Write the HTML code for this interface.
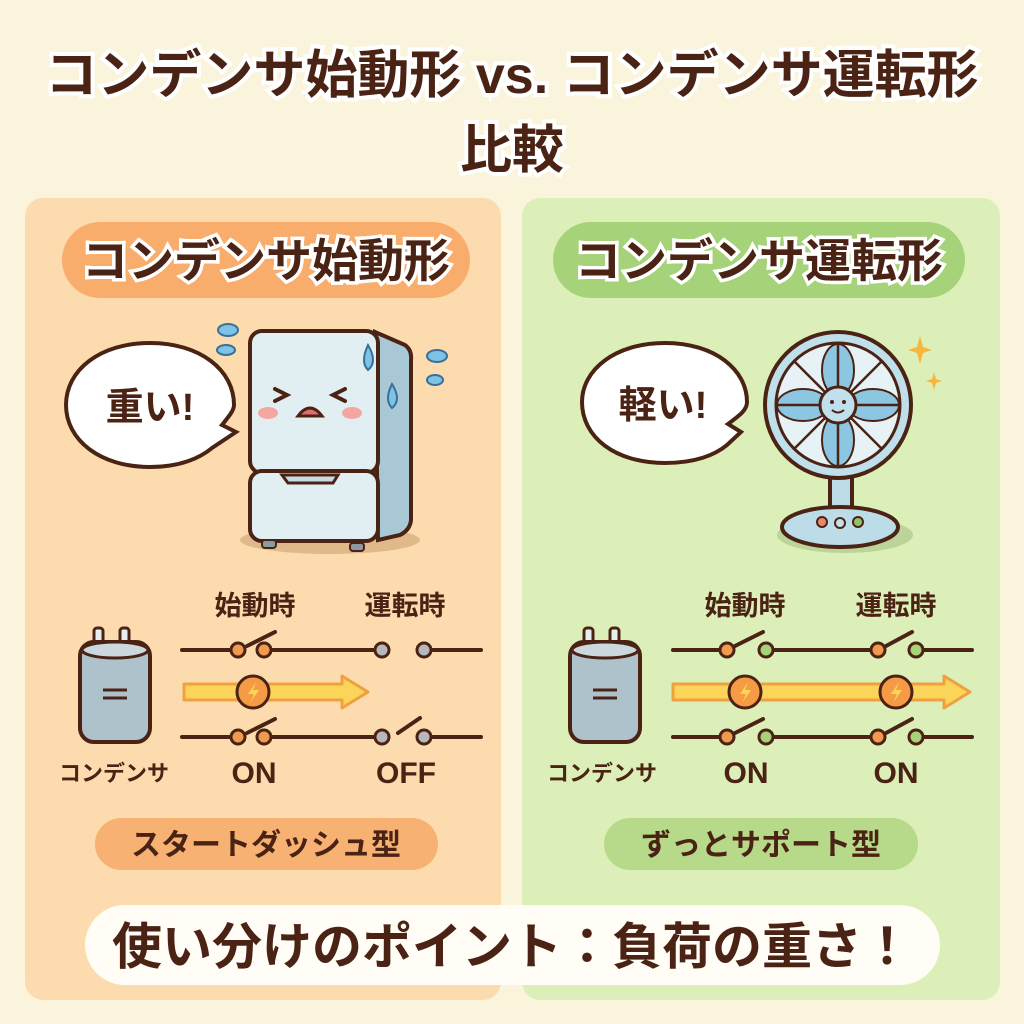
<!DOCTYPE html>
<html><head><meta charset="utf-8"><style>
html,body{margin:0;padding:0;background:#fbf4dc;}
svg{display:block}
text{font-family:"Liberation Sans","Noto Sans CJK JP",sans-serif;font-weight:bold;fill:#4a2314;text-anchor:middle}
</style></head><body>
<svg width="1024" height="1024" viewBox="0 0 1024 1024" xmlns="http://www.w3.org/2000/svg">
<rect width="1024" height="1024" fill="#fbf4dc"/>
<text x="512" y="93" font-size="52" stroke="#fff" stroke-width="8" paint-order="stroke">コンデンサ始動形 vs. コンデンサ運転形</text>
<text x="512" y="168" font-size="52" stroke="#fff" stroke-width="8" paint-order="stroke">比較</text>

<rect x="25" y="198" width="476" height="802" rx="18" fill="#fcdcae"/>
<rect x="522" y="198" width="478" height="802" rx="18" fill="#dcefb9"/>

<rect x="62" y="222" width="408" height="76" rx="38" fill="#f9ad6c"/>
<text x="266" y="277" font-size="46" stroke="#fff" stroke-width="7" paint-order="stroke">コンデンサ始動形</text>
<rect x="553" y="222" width="412" height="76" rx="38" fill="#a6d279"/>
<text x="759" y="277" font-size="46" stroke="#fff" stroke-width="7" paint-order="stroke">コンデンサ運転形</text>

<path d="M150 343 C 100 343 66 370 66 405 C 66 440 100 467 150 467 C 180 467 200 458 212 448 L236 432 L222 425 C 230 415 234 410 234 405 C 234 370 200 343 150 343 Z" fill="#fff" stroke="#4a2314" stroke-width="4"/>
<text x="150" y="420" font-size="38">重い!</text>
<ellipse cx="330" cy="540" rx="90" ry="14" fill="#e0b98a"/>
<path d="M375 332 L405 345 Q412 350 411 360 L411 520 Q410 530 400 535 L378 540 Z" fill="#a9c8d6" stroke="#4a2314" stroke-width="4"/>
<rect x="250" y="331" width="128" height="142" rx="12" fill="#e1eef2" stroke="#4a2314" stroke-width="4"/>
<rect x="250" y="471" width="128" height="70" rx="12" fill="#e1eef2" stroke="#4a2314" stroke-width="4"/>
<path d="M282 475 L338 475 L333 483 L288 483 Z" fill="#c8dce4" stroke="#4a2314" stroke-width="3"/>
<rect x="262" y="540" width="14" height="8" rx="3" fill="#8a9aa0" stroke="#4a2314" stroke-width="2"/>
<rect x="350" y="543" width="14" height="8" rx="3" fill="#8a9aa0" stroke="#4a2314" stroke-width="2"/>
<path d="M275 389 L287 395 L275 401 M345 389 L333 395 L345 401" fill="none" stroke="#4a2314" stroke-width="4" stroke-linecap="round"/>
<path d="M298 416 Q310 400 322 416 Z" fill="#e26d6d" stroke="#4a2314" stroke-width="3"/>
<ellipse cx="268" cy="413" rx="10" ry="6" fill="#f4a6a0"/>
<ellipse cx="352" cy="413" rx="10" ry="6" fill="#f4a6a0"/>
<path d="M368 345 Q360 362 368 370 Q378 362 368 345 Z" fill="#7cc3e6" stroke="#3a6f98" stroke-width="2"/>
<path d="M392 384 Q384 400 392 408 Q402 400 392 384 Z" fill="#7cc3e6" stroke="#3a6f98" stroke-width="2"/>
<ellipse cx="228" cy="330" rx="10" ry="6" fill="#7cc3e6" stroke="#3a6f98" stroke-width="2"/>
<ellipse cx="226" cy="350" rx="9" ry="5" fill="#7cc3e6" stroke="#3a6f98" stroke-width="2"/>
<ellipse cx="437" cy="356" rx="10" ry="6" fill="#7cc3e6" stroke="#3a6f98" stroke-width="2"/>
<ellipse cx="435" cy="380" rx="8" ry="5" fill="#7cc3e6" stroke="#3a6f98" stroke-width="2"/>

<path d="M665 343 C 615 343 582 370 582 402 C 582 437 615 463 665 463 C 695 463 715 455 727 445 L741 432 L728 424 C 740 415 747 410 747 402 C 747 370 715 343 665 343 Z" fill="#fff" stroke="#4a2314" stroke-width="4"/>
<text x="663" y="418" font-size="38">軽い!</text>
<ellipse cx="845" cy="535" rx="68" ry="18" fill="#bcd49a"/>
<rect x="830" y="470" width="22" height="48" fill="#bcdce8" stroke="#4a2314" stroke-width="4"/>
<ellipse cx="840" cy="527" rx="58" ry="20" fill="#bcdce8" stroke="#4a2314" stroke-width="4"/>
<circle cx="822" cy="522" r="5" fill="#e8886a" stroke="#4a2314" stroke-width="2"/>
<circle cx="840" cy="523" r="5" fill="#c5e0ea" stroke="#4a2314" stroke-width="2"/>
<circle cx="858" cy="522" r="5" fill="#8cc46a" stroke="#4a2314" stroke-width="2"/>
<circle cx="838" cy="405" r="73" fill="#bfdfea" stroke="#4a2314" stroke-width="4"/>
<circle cx="838" cy="405" r="62" fill="#e6f2f6" stroke="#4a2314" stroke-width="3"/>
<g fill="#8dc6e0" stroke="#4a2314" stroke-width="2">
<ellipse cx="838" cy="370" rx="16" ry="26"/>
<ellipse cx="838" cy="440" rx="16" ry="26"/>
<ellipse cx="803" cy="405" rx="26" ry="16"/>
<ellipse cx="873" cy="405" rx="26" ry="16"/>
</g>
<g stroke="#4a2314" stroke-width="2.5">
<line x1="838" y1="343" x2="838" y2="467"/><line x1="776" y1="405" x2="900" y2="405"/>
<line x1="794" y1="361" x2="882" y2="449"/><line x1="882" y1="361" x2="794" y2="449"/>
</g>
<circle cx="838" cy="405" r="18" fill="#bfe0ec" stroke="#4a2314" stroke-width="3"/>
<circle cx="832" cy="402" r="2" fill="#4a2314"/><circle cx="844" cy="402" r="2" fill="#4a2314"/>
<path d="M832 410 Q838 415 844 410" fill="none" stroke="#4a2314" stroke-width="2"/>
<path d="M920 336 L923 347 L932 350 L923 353 L920 364 L917 353 L908 350 L917 347 Z" fill="#f6b73c"/>
<path d="M934 372 L936 379 L942 381 L936 383 L934 390 L932 383 L926 381 L932 379 Z" fill="#f6b73c"/>

<text x="255" y="615" font-size="27">始動時</text>
<text x="405" y="615" font-size="27">運転時</text>
<g stroke="#4a2314" stroke-width="4" fill="none" stroke-linecap="round">
<line x1="182" y1="650" x2="230" y2="650"/><line x1="247" y1="646" x2="275" y2="632"/><line x1="272" y1="650" x2="382" y2="650"/><line x1="430" y1="650" x2="481" y2="650"/>
<line x1="182" y1="737" x2="230" y2="737"/><line x1="247" y1="733" x2="275" y2="719"/><line x1="272" y1="737" x2="382" y2="737"/><line x1="398" y1="733" x2="420" y2="718"/><line x1="430" y1="737" x2="481" y2="737"/>
</g>
<g stroke="#4a2314" stroke-width="3">
<circle cx="238" cy="650" r="7" fill="#f09a50"/><circle cx="264" cy="650" r="7" fill="#f09a50"/>
<circle cx="382" cy="650" r="7" fill="#b8b8bc"/><circle cx="424" cy="650" r="7" fill="#b8b8bc"/>
<circle cx="238" cy="737" r="7" fill="#f09a50"/><circle cx="264" cy="737" r="7" fill="#f09a50"/>
<circle cx="382" cy="737" r="7" fill="#b8b8bc"/><circle cx="424" cy="737" r="7" fill="#b8b8bc"/>
</g>
<path d="M184 684 L342 684 L342 676 L368 692 L342 708 L342 700 L184 700 Z" fill="#fbd45a" stroke="#f0a040" stroke-width="3" stroke-linejoin="round"/>
<circle cx="253" cy="692" r="16" fill="#f59a45" stroke="#4a2314" stroke-width="3"/>
<path d="M256 682 L248 694 L254 694 L250 703 L259 690 L253 690 Z" fill="#fbd45a"/>
<rect x="94" y="628" width="9" height="22" rx="3" fill="#e6eef0" stroke="#4a2314" stroke-width="3"/>
<rect x="120" y="628" width="9" height="22" rx="3" fill="#e6eef0" stroke="#4a2314" stroke-width="3"/>
<rect x="80" y="642" width="70" height="100" rx="14" fill="#aec2cc" stroke="#4a2314" stroke-width="4"/>
<ellipse cx="115" cy="650" rx="33" ry="8" fill="#cbd8de" stroke="#4a2314" stroke-width="3"/>
<line x1="103" y1="690" x2="127" y2="690" stroke="#4a2314" stroke-width="3"/><line x1="103" y1="698" x2="127" y2="698" stroke="#4a2314" stroke-width="3"/>
<text x="114" y="781" font-size="22" font-weight="normal">コンデンサ</text>
<text x="254" y="783" font-size="30">ON</text>
<text x="406" y="783" font-size="30">OFF</text>

<text x="745" y="615" font-size="27">始動時</text>
<text x="896" y="615" font-size="27">運転時</text>
<g stroke="#4a2314" stroke-width="4" fill="none" stroke-linecap="round">
<line x1="673" y1="650" x2="720" y2="650"/><line x1="735" y1="646" x2="763" y2="632"/><line x1="762" y1="650" x2="870" y2="650"/><line x1="886" y1="646" x2="912" y2="632"/><line x1="912" y1="650" x2="972" y2="650"/>
<line x1="673" y1="737" x2="720" y2="737"/><line x1="735" y1="733" x2="763" y2="719"/><line x1="762" y1="737" x2="870" y2="737"/><line x1="886" y1="733" x2="912" y2="719"/><line x1="912" y1="737" x2="972" y2="737"/>
</g>
<g stroke="#4a2314" stroke-width="3">
<circle cx="727" cy="650" r="7" fill="#f09a50"/><circle cx="766" cy="650" r="7" fill="#a8d27a"/>
<circle cx="878" cy="650" r="7" fill="#f09a50"/><circle cx="916" cy="650" r="7" fill="#a8d27a"/>
<circle cx="727" cy="737" r="7" fill="#f09a50"/><circle cx="766" cy="737" r="7" fill="#a8d27a"/>
<circle cx="878" cy="737" r="7" fill="#f09a50"/><circle cx="916" cy="737" r="7" fill="#a8d27a"/>
</g>
<path d="M673 684 L944 684 L944 676 L970 692 L944 708 L944 700 L673 700 Z" fill="#fbd45a" stroke="#f0a040" stroke-width="3" stroke-linejoin="round"/>
<circle cx="745" cy="692" r="16" fill="#f59a45" stroke="#4a2314" stroke-width="3"/>
<path d="M748 682 L740 694 L746 694 L742 703 L751 690 L745 690 Z" fill="#fbd45a"/>
<circle cx="896" cy="692" r="16" fill="#f59a45" stroke="#4a2314" stroke-width="3"/>
<path d="M899 682 L891 694 L897 694 L893 703 L902 690 L896 690 Z" fill="#fbd45a"/>
<rect x="584" y="628" width="9" height="22" rx="3" fill="#e6eef0" stroke="#4a2314" stroke-width="3"/>
<rect x="610" y="628" width="9" height="22" rx="3" fill="#e6eef0" stroke="#4a2314" stroke-width="3"/>
<rect x="570" y="642" width="70" height="100" rx="14" fill="#aec2cc" stroke="#4a2314" stroke-width="4"/>
<ellipse cx="605" cy="650" rx="33" ry="8" fill="#cbd8de" stroke="#4a2314" stroke-width="3"/>
<line x1="593" y1="690" x2="617" y2="690" stroke="#4a2314" stroke-width="3"/><line x1="593" y1="698" x2="617" y2="698" stroke="#4a2314" stroke-width="3"/>
<text x="602" y="781" font-size="22" font-weight="normal">コンデンサ</text>
<text x="746" y="783" font-size="30">ON</text>
<text x="896" y="783" font-size="30">ON</text>

<rect x="95" y="818" width="343" height="52" rx="26" fill="#f7b172"/>
<text x="266" y="855" font-size="30">スタートダッシュ型</text>
<rect x="604" y="818" width="314" height="52" rx="26" fill="#b6d98a"/>
<text x="761" y="855" font-size="30">ずっとサポート型</text>

<rect x="85" y="905" width="855" height="80" rx="40" fill="#fffdf6"/>
<text x="512" y="964" font-size="50">使い分けのポイント：負荷の重さ！</text>
</svg>
</body></html>
